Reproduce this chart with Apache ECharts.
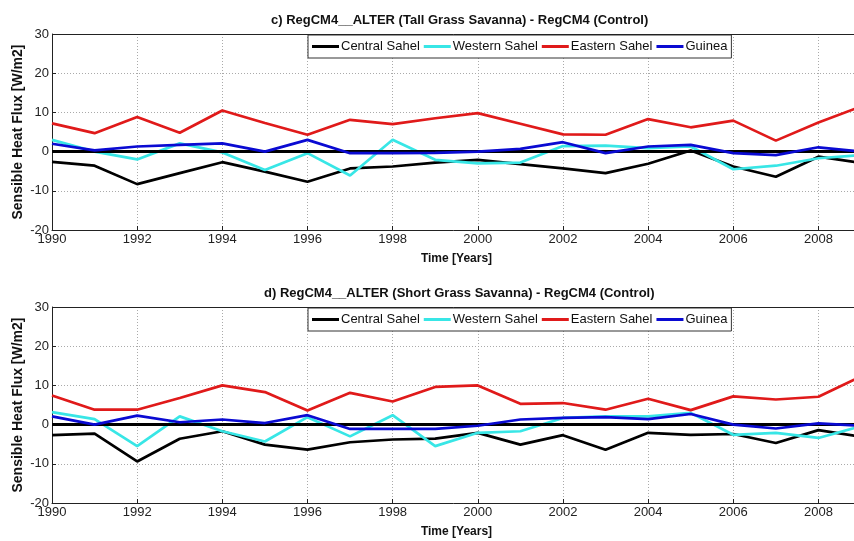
<!DOCTYPE html>
<html>
<head>
<meta charset="utf-8">
<script src="https://cdn.jsdelivr.net/npm/echarts@6/dist/echarts.min.js"></script>
<style>
  html, body { margin: 0; padding: 0; background: #fff; }
  #main { width: 854px; height: 541px; }
</style>
</head>
<body>
<div id="main"></div>
<script>
// years of the simulation
const years = [1990, 1991, 1992, 1993, 1994, 1995, 1996, 1997, 1998, 1999,
  2000, 2001, 2002, 2003, 2004, 2005, 2006, 2007, 2008, 2009];

const regions = ['Central Sahel', 'Western Sahel', 'Eastern Sahel', 'Guinea'];
const colors = ['#000000', '#38e6e6', '#e01a1a', '#0a0ad2'];

// c) Tall grass savanna minus control
const tallCentral = [-2.6, -3.6, -8.3, -5.5, -2.7, -5.1, -7.7, -4.3, -3.8, -2.8,
  -2.1, -3.2, -4.3, -5.5, -3.1, 0.3, -3.8, -6.4, -1.3, -2.9];
const tallWestern = [3.0, 0.0, -2.0, 2.1, -0.2, -4.7, -0.4, -6.1, 3.0, -2.1,
  -3.0, -2.8, 1.4, 1.5, 0.9, 1.3, -4.5, -3.6, -1.7, -0.9];
const tallEastern = [7.2, 4.7, 8.8, 4.8, 10.5, 7.3, 4.3, 8.1, 7.0, 8.5,
  9.8, 7.1, 4.4, 4.3, 8.3, 6.2, 7.9, 2.8, 7.4, 11.5];
const tallGuinea = [2.0, 0.3, 1.3, 1.7, 2.1, 0.0, 3.0, -0.4, -0.4, -0.3,
  0.0, 0.7, 2.4, -0.4, 1.3, 1.7, -0.4, -0.9, 1.1, 0.0];

// d) Short grass savanna minus control
const shortCentral = [-2.7, -2.3, -9.4, -3.6, -1.7, -5.1, -6.4, -4.5, -3.8, -3.6,
  -2.1, -5.1, -2.7, -6.4, -2.1, -2.6, -2.4, -4.7, -1.4, -3.1];
const shortWestern = [3.2, 1.4, -5.5, 2.1, -1.7, -4.3, 1.9, -3.0, 2.4, -5.5,
  -2.1, -1.7, 1.7, 2.1, 2.1, 3.0, -2.6, -2.1, -3.4, -0.4];
const shortEastern = [7.4, 3.8, 3.8, 6.8, 10.0, 8.3, 3.6, 8.1, 5.9, 9.6,
  10.0, 5.3, 5.5, 3.8, 6.6, 3.7, 7.2, 6.4, 7.1, 12.3];
const shortGuinea = [2.1, 0.0, 2.3, 0.6, 1.3, 0.4, 2.4, -1.1, -1.1, -1.1,
  -0.3, 1.3, 1.7, 1.9, 1.4, 2.7, 0.0, -1.0, 0.3, -0.3];

const yTicks = [-20, -10, 0, 10, 20, 30];

const panels = [
  { title: 'c) RegCM4__ALTER (Tall Grass Savanna) - RegCM4 (Control)',
    data: [tallCentral, tallWestern, tallEastern, tallGuinea] },
  { title: 'd) RegCM4__ALTER (Short Grass Savanna) - RegCM4 (Control)',
    data: [shortCentral, shortWestern, shortEastern, shortGuinea] }
];

const gridTops = [34, 307];
const font = 'Arial, "Liberation Sans", sans-serif';

const chart = echarts.init(document.getElementById('main'), null, { renderer: 'canvas' });

const option = {
  backgroundColor: '#fff',
  animation: false,
  title: panels.map((p, i) => ({
    text: p.title,
    left: i === 0 ? 266 : 259,
    top: gridTops[i] - 25,
    textStyle: { fontFamily: font, fontSize: 13, fontWeight: 'bold', color: '#111' }
  })),
  legend: panels.map((p, i) => ({
    data: regions,
    left: 308,
    top: gridTops[i] + 1,
    orient: 'horizontal',
    icon: 'rect',
    itemWidth: 27,
    itemHeight: 3,
    itemGap: 4,
    padding: [5, 4],
    backgroundColor: '#fff',
    borderColor: '#333',
    borderWidth: 1,
    borderRadius: 0,
    textStyle: { fontFamily: font, fontSize: 13, color: '#111', padding: [0, 0, 0, -3] },
    selectedMode: false
  })),
  grid: gridTops.map(t => ({ left: 52, top: t, width: 809, height: 196, outerBoundsMode: 'none', containLabel: false })),
  xAxis: gridTops.map((t, i) => ({
    type: 'value',
    gridIndex: i,
    min: 1990,
    max: 2009,
    interval: 2,
    name: 'Time [Years]',
    nameLocation: 'middle',
    nameGap: 23,
    nameTextStyle: { fontFamily: font, fontSize: 12, fontWeight: 'bold', color: '#111' },
    axisLine: { onZero: false, lineStyle: { color: '#222', width: 1 } },
    axisTick: { inside: true, length: 4, lineStyle: { color: '#222' } },
    axisLabel: { fontFamily: font, fontSize: 13, color: '#222', margin: 3, showMaxLabel: false, formatter: v => String(v) },
    splitLine: { show: true, lineStyle: { color: '#aaa', type: [1, 2], width: 1 } }
  })),
  yAxis: gridTops.map((t, i) => ({
    type: 'value',
    gridIndex: i,
    min: yTicks[0],
    max: yTicks[yTicks.length - 1],
    interval: 10,
    name: 'Sensible Heat Flux [W/m2]',
    nameLocation: 'middle',
    nameGap: 27,
    nameMoveOverlap: false,
    nameTextStyle: { fontFamily: font, fontSize: 14, fontWeight: 'bold', color: '#111' },
    axisLine: { show: true, lineStyle: { color: '#222', width: 1 } },
    axisTick: { show: true, inside: true, length: 4, lineStyle: { color: '#222' } },
    axisLabel: { fontFamily: font, fontSize: 13, color: '#222', margin: 3 },
    splitLine: { show: true, lineStyle: { color: '#aaa', type: [1, 2], width: 1 } }
  })),
  series: []
};

// one line per region in each panel, plus the zero line and top border
panels.forEach((p, i) => {
  p.data.forEach((vals, k) => {
    const s = {
      name: regions[k],
      type: 'line',
      xAxisIndex: i,
      yAxisIndex: i,
      data: years.map((y, j) => [y, vals[j]]),
      showSymbol: false,
      symbol: 'none',
      clip: true,
      lineStyle: { color: colors[k], width: 2.7 },
      itemStyle: { color: colors[k] },
      z: 3 + k
    };
    if (k === 0) {
      s.markLine = {
        silent: true,
        symbol: 'none',
        label: { show: false },
        lineStyle: { color: '#000', width: 3, type: 'solid' },
        data: [{ yAxis: 0 }, { yAxis: 30, lineStyle: { width: 1, color: '#222' } }]
      };
    }
    option.series.push(s);
  });
});

chart.setOption(option);
</script>
</body>
</html>
